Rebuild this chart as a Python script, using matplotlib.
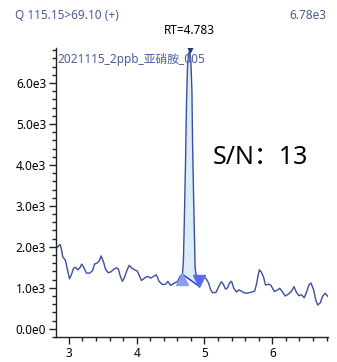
import numpy as np
import matplotlib.pyplot as plt
from matplotlib.ticker import MultipleLocator, FuncFormatter

# chromatogram trace (time [min], intensity)
noise_before_t = [2.81, 2.84, 2.87, 2.89, 2.91, 2.95, 2.98, 3.01, 3.04, 3.07, 3.10, 3.13,
                  3.16, 3.19, 3.22, 3.26, 3.31, 3.35, 3.38, 3.42, 3.45, 3.475, 3.51, 3.54,
                  3.58, 3.62, 3.66, 3.70, 3.73, 3.76, 3.79, 3.82, 3.85, 3.89, 3.93, 3.97,
                  4.01, 4.04, 4.07, 4.11, 4.16, 4.21, 4.25, 4.29, 4.33, 4.38, 4.43, 4.46,
                  4.50, 4.55, 4.60, 4.64]
noise_before_i = [1950, 2010, 2060, 1950, 1760, 1670, 1440, 1220, 1330, 1480, 1500, 1440,
                  1480, 1580, 1500, 1360, 1360, 1420, 1580, 1610, 1660, 1780, 1640, 1460,
                  1370, 1390, 1450, 1490, 1460, 1280, 1160, 1250, 1400, 1550, 1480, 1440,
                  1410, 1300, 1180, 1230, 1280, 1240, 1280, 1320, 1160, 1080, 1090, 1160,
                  1060, 1110, 1150, 1280]
peak_t = [4.676, 4.69, 4.70, 4.72, 4.735, 4.75, 4.765, 4.783, 4.80, 4.815, 4.825, 4.84,
          4.852, 4.862, 4.88, 4.90, 4.92]
peak_i = [1330, 1700, 2400, 4000, 5500, 6400, 6720, 6780, 6500, 5800, 4500, 3200,
          2300, 1500, 1250, 1150, 1040]
noise_after_t = [4.96, 5.00, 5.03, 5.06, 5.09, 5.12, 5.17, 5.21, 5.25, 5.28, 5.31, 5.34,
                 5.37, 5.40, 5.43, 5.47, 5.51, 5.545, 5.58, 5.63, 5.68, 5.74, 5.77, 5.79,
                 5.81, 5.84, 5.87, 5.90, 5.95, 5.98, 6.03, 6.08, 6.11, 6.15, 6.19, 6.24,
                 6.28, 6.32, 6.35, 6.39, 6.43, 6.47, 6.50, 6.54, 6.57, 6.61, 6.64, 6.67,
                 6.71, 6.74, 6.78, 6.82]
noise_after_i = [1220, 1260, 1210, 1120, 960, 880, 890, 1030, 1150, 1080, 970, 1000,
                 1120, 1160, 1000, 900, 950, 920, 880, 870, 890, 920, 1110, 1300,
                 1440, 1380, 1270, 1070, 1090, 1060, 910, 950, 990, 900, 800, 850,
                 910, 1030, 910, 810, 830, 760, 870, 1070, 1120, 950, 710, 580,
                 640, 790, 870, 790]

rt = 4.783
apex = 6780
title_left = 'Q 115.15>69.10 (+)'
title_right = '6.78e3'
sample_name = '2021115_2ppb_亚硝胺_005'
sn_text = 'S/N：13'

fonts = ['Noto Sans', 'Noto Sans CJK SC', 'DejaVu Sans']
plt.rcParams['font.family'] = fonts

t = np.array(noise_before_t + peak_t + noise_after_t)
inten = np.array(noise_before_i + peak_i + noise_after_i)

fig = plt.figure(figsize=(3.37, 3.62), dpi=100)
ax = fig.add_axes([0.166, 0.069, 0.807, 0.798])

trace_col = '#3b4f9e'
# integrated area between peak and baseline
pt = np.array(peak_t)
pi_ = np.array(peak_i)
base = np.interp(pt, [pt[0], pt[-1]], [pi_[0], pi_[-1]])
ax.fill_between(pt, base, pi_, color='#dcedf6', lw=0, zorder=1)
ax.plot(t, inten, color=trace_col, lw=1.0, zorder=2)
ax.plot([pt[0], pt[-1]], [pi_[0], pi_[-1]], color='#1a2ee0', lw=1.0, zorder=3)
ax.plot(pt[0] - 0.01, pi_[0] - 120, marker='^', ms=8, color='#8d9bf0', ls='none', zorder=4)
ax.plot(pt[-1], pi_[-1] + 130, marker='v', ms=8, color='#5a6ce6', ls='none', zorder=4)
ax.plot(rt, apex + 80, marker='v', ms=6, color='#24356f', ls='none', zorder=4)

ax.set_xlim(2.81, 6.82)
ax.set_ylim(-200, 6850)

for s in ['top', 'right']:
    ax.spines[s].set_visible(False)
for s in ['left', 'bottom']:
    ax.spines[s].set_color('#222222')
    ax.spines[s].set_linewidth(1.0)

ax.xaxis.set_major_locator(MultipleLocator(1))
ax.xaxis.set_minor_locator(MultipleLocator(0.2))
ax.yaxis.set_major_locator(MultipleLocator(1000))
ax.yaxis.set_minor_locator(MultipleLocator(200))
ax.yaxis.set_major_formatter(FuncFormatter(lambda v, p: '0.0e0' if v == 0 else '%.1fe3' % (v / 1000)))
ax.tick_params(which='major', length=5, width=1, color='#222222', labelsize=8.5, pad=2)
ax.tick_params(which='minor', length=3, width=1, color='#222222')

fig.text(0.045, 0.956, title_left, color='#4a5c9c', fontsize=8.5, va='center', ha='left')
fig.text(0.967, 0.956, title_right, color='#4a5c9c', fontsize=8.5, va='center', ha='right')
ax.text(rt, 1.06, 'RT=4.783', transform=ax.get_xaxis_transform(), fontsize=8.5,
        color='black', ha='center', va='center')
ax.text(0.005, 0.962, sample_name, transform=ax.transAxes, color='#4a5c9c',
        fontsize=8.5, ha='left', va='center')
fig.text(0.632, 0.566, sn_text, fontsize=18, color='black', ha='left', va='center')

fig.savefig('out.png', dpi=100)
